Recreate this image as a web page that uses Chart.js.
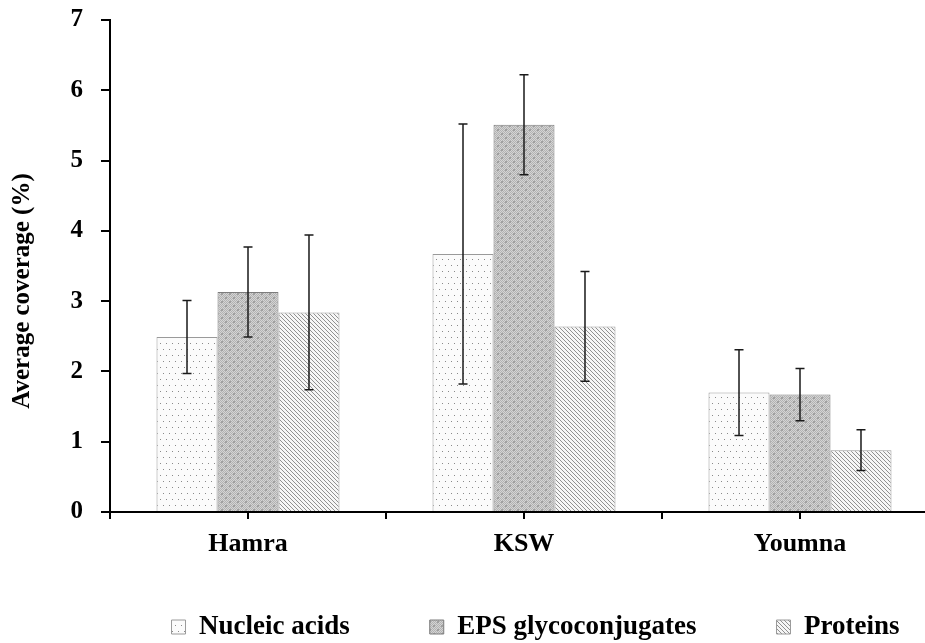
<!DOCTYPE html>
<html><head><meta charset="utf-8">
<script src="https://cdn.jsdelivr.net/npm/chart.js@4.4.1/dist/chart.umd.min.js"></script>
<style>html,body{margin:0;padding:0;background:#fff;}</style>
</head><body>
<canvas id="c" width="925" height="643"></canvas>
<script>
const categories = ['Hamra', 'KSW', 'Youmna'];
const seriesNames = ['Nucleic acids', 'EPS glycoconjugates', 'Proteins'];
const nucleicAcids = [2.49, 3.67, 1.70];
const nucleicAcidsErr = [0.52, 1.85, 0.61];
const epsGlyco = [3.13, 5.51, 1.67];
const epsGlycoErr = [0.64, 0.71, 0.37];
const proteins = [2.84, 2.64, 0.88];
const proteinsErr = [1.10, 0.78, 0.29];
const yTicks = [0, 1, 2, 3, 4, 5, 6, 7];

const FONT = '"Liberation Serif", "Times New Roman", serif';

function makePattern(size, draw) {
  const c = document.createElement('canvas');
  c.width = size; c.height = size;
  const g = c.getContext('2d');
  draw(g);
  return document.getElementById('c').getContext('2d').createPattern(c, 'repeat');
}
const dotPattern = makePattern(12, g => {
  g.fillStyle = '#fbfbfb'; g.fillRect(0, 0, 12, 12);
  g.fillStyle = '#8a8a8a';
  [[1,1],[7,1],[4,7],[10,7]].forEach(p => g.fillRect(p[0], p[1], 1, 1));
});
const checkPattern = makePattern(8, g => {
  for (let y = 0; y < 8; y++) for (let x = 0; x < 8; x++) {
    g.fillStyle = ((x + y) % 2 === 0) ? '#b2b2b2' : '#d4d4d4';
    g.fillRect(x, y, 1, 1);
  }
  g.fillStyle = '#a0a0a0';
  g.fillRect(1, 1, 2, 2); g.fillRect(5, 5, 2, 2);
});
const hatchPattern = makePattern(4, g => {
  g.fillStyle = '#f6f6f6'; g.fillRect(0, 0, 4, 4);
  g.fillStyle = '#909090';
  for (let k = 0; k < 4; k++) g.fillRect(k, k, 1, 1);
});

const errorBars = {
  id: 'errorBars',
  afterDatasetsDraw(chart) {
    const ctx = chart.ctx, ys = chart.scales.y;
    chart.data.datasets.forEach((ds, di) => {
      const meta = chart.getDatasetMeta(di);
      meta.data.forEach((bar, i) => {
        const v = ds.data[i], e = ds.errors[i];
        const x = bar.x, yt = ys.getPixelForValue(v + e), yb = ys.getPixelForValue(v - e);
        ctx.save();
        ctx.strokeStyle = '#1a1a1a'; ctx.lineWidth = 1.5;
        ctx.beginPath();
        ctx.moveTo(x, yt); ctx.lineTo(x, yb);
        ctx.moveTo(x - 4.5, yt); ctx.lineTo(x + 4.5, yt);
        ctx.moveTo(x - 4.5, yb); ctx.lineTo(x + 4.5, yb);
        ctx.stroke();
        ctx.restore();
      });
    });
  }
};

const boundaryTicks = {
  id: 'boundaryTicks',
  afterDraw(chart) {
    const xs = chart.scales.x, a = chart.chartArea, ctx = chart.ctx;
    const n = categories.length;
    const w = (xs.getPixelForTick(1) - xs.getPixelForTick(0));
    ctx.save();
    ctx.strokeStyle = '#000'; ctx.lineWidth = 2;
    ctx.beginPath();
    for (let i = 0; i < n; i++) {
      const px = xs.getPixelForTick(i) - w / 2;
      ctx.moveTo(px, a.bottom); ctx.lineTo(px, a.bottom + 7);
    }
    ctx.stroke();
    ctx.restore();
  }
};

// frame of the plot (pixels)
const PLOT = { left: 110, top: 20, bottom: 512, right: 938 };
const LEGEND_FONT = 27, LEGEND_PAD = 80, LEGEND_Y = 627, LEGEND_SHIFT = 73;

const frame = {
  id: 'frame',
  afterLayout(chart) {
    const ca = chart.chartArea, xs = chart.scales.x, ys = chart.scales.y;
    ys.top = PLOT.top; ys.bottom = PLOT.bottom; ys.height = PLOT.bottom - PLOT.top;
    ys.configure(); ys._gridLineItems = null; ys._labelItems = null;
    const xh = xs.height;
    xs.top = PLOT.bottom; xs.bottom = PLOT.bottom + xh;
    xs.right = PLOT.right; xs.width = xs.right - xs.left;
    xs.configure(); xs._gridLineItems = null; xs._labelItems = null;
    ca.top = PLOT.top; ca.bottom = PLOT.bottom; ca.right = PLOT.right;
    ca.width = ca.right - ca.left; ca.height = ca.bottom - ca.top;
    const lg = chart.legend;
    if (lg) {
      const h = lg.height;
      lg.top = LEGEND_Y - LEGEND_FONT / 2 - LEGEND_PAD; lg.bottom = lg.top + h;
      lg.left += LEGEND_SHIFT; lg.right += LEGEND_SHIFT;
    }
  },
  beforeDraw(chart) {
    const s = chart.scales.y;
    if (s && !s._titleShifted) {
      const orig = s.drawTitle;
      s.drawTitle = function () {
        const t = this.top;
        this.top = t + 50;
        orig.apply(this, arguments);
        this.top = t;
      };
      s._titleShifted = true;
    }
  }
};

new Chart(document.getElementById('c'), {
  type: 'bar',
  data: {
    labels: categories,
    datasets: [
      { label: seriesNames[0], data: nucleicAcids, errors: nucleicAcidsErr, backgroundColor: dotPattern, borderColor: '#9a9a9a', borderWidth: 1 },
      { label: seriesNames[1], data: epsGlyco, errors: epsGlycoErr, backgroundColor: checkPattern, borderColor: '#7c7c7c', borderWidth: 1 },
      { label: seriesNames[2], data: proteins, errors: proteinsErr, backgroundColor: hatchPattern, borderColor: '#9a9a9a', borderWidth: 1 }
    ]
  },
  options: {
    responsive: false,
    animation: false,
    categoryPercentage: 0.663,
    barPercentage: 1,
    layout: { padding: { left: 0, right: 0, top: 8, bottom: 0 } },
    plugins: {
      legend: {
        position: 'bottom',
        labels: {
          boxWidth: 14, boxHeight: 14, padding: LEGEND_PAD, color: '#000',
          font: { family: FONT, size: LEGEND_FONT, weight: 'bold' }
        }
      },
      tooltip: { enabled: false }
    },
    scales: {
      x: {
        grid: { display: true, drawOnChartArea: false, offset: false, tickLength: 7, color: '#000', lineWidth: 2 },
        border: { color: '#000', width: 2 },
        ticks: { color: '#000', padding: 10, font: { family: FONT, size: 26, weight: 'bold' } },
        afterFit(s) { s.height = 48; }
      },
      y: {
        min: 0, max: 7,
        afterBuildTicks(s) { s.ticks = yTicks.map(v => ({ value: v })); },
        grid: { display: true, drawOnChartArea: false, tickLength: 9, color: '#000', lineWidth: 2 },
        border: { color: '#000', width: 2 },
        ticks: { color: '#000', padding: 18, font: { family: FONT, size: 25, weight: 'bold' } },
        title: { display: true, text: 'Average coverage (%)', color: '#000', padding: { top: 8, bottom: 0 }, font: { family: FONT, size: 25, weight: 'bold' } },
        afterFit(s) { s.width = PLOT.left; }
      }
    }
  },
  plugins: [errorBars, boundaryTicks, frame]
});
</script>
</body></html>
